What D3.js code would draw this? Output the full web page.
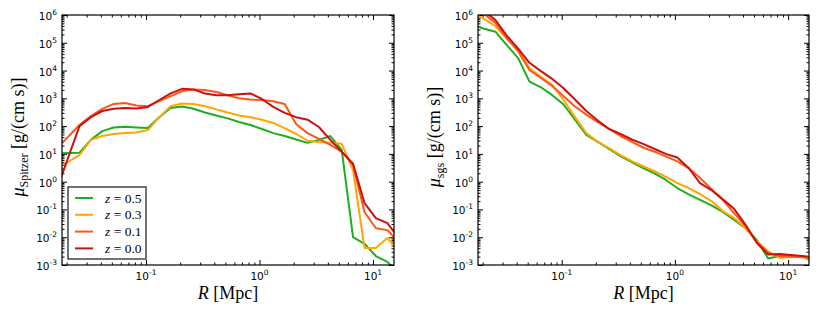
<!DOCTYPE html>
<html><head><meta charset="utf-8">
<script src="https://cdn.jsdelivr.net/npm/d3@7"></script>
<style>body{margin:0;background:#fff}</style>
</head><body>
<svg id="c" width="830" height="312"></svg>
<script>
// ---- data ----
const radius = [0.01633,0.02056,0.02594,0.03266,0.04121,0.05188,0.06546,0.08241,0.1038,0.1309,0.1648,0.2080,0.2618,0.3304,0.4159,0.5236,0.6607,0.8318,1.050,1.321,1.667,2.099,2.649,3.334,4.207,5.297,6.668,8.414,10.59,13.37,16.83];
const seriesLabels = ["0.5","0.3","0.1","0.0"];
const seriesColors = ["#1fae1f","#ffa500","#ff5516","#cc1010"];

const spitzerZ05 = [10.5,10.7,11,32,66,89,95,89,85,210,450,510,420,310,240,190,140,110,79,56,44,33,25,32,44,14,0.010,0.0058,0.0021,0.0013,0.0005];
const spitzerZ03 = [3.1,5.1,9.1,32,44,52,56,59,72,210,520,650,630,520,400,310,240,210,170,130,85,52,30,27,25,23,2.6,0.0041,0.0041,0.0093,0.0032];
const spitzerZ01 = [15,41,110,230,420,630,680,550,520,790,1200,1800,2100,2000,1700,1300,1000,910,870,790,630,120,56,35,21,12,4.0,0.081,0.021,0.018,0.0068];
const spitzerZ00 = [0.5,7.1,100,210,350,420,450,430,490,870,1500,2200,2100,1500,1300,1300,1400,1500,950,490,300,210,170,93,32,12,4.4,0.17,0.049,0.032,0.0093];

const sgsZ05 = [4.4e5,3.2e5,2.5e5,8.3e4,2.8e4,4.0e3,2.5e3,1.3e3,6.0e2,1.7e2,48,27,15,8.3,5.1,3.1,2.0,1.15,0.59,0.35,0.22,0.14,0.081,0.042,0.021,0.0079,0.0017,0.0021,0.0021,0.0020,0.0013];
const sgsZ03 = [1.2e6,7.2e5,4.0e5,1.4e5,5.5e4,1.2e4,5.9e3,3.0e3,8.7e2,2.1e2,56,27,16,9.1,5.5,3.6,2.4,1.5,0.89,0.59,0.36,0.20,0.087,0.049,0.021,0.0072,0.0031,0.0018,0.0020,0.0019,0.0017];
const sgsZ01 = [1.8e6,1.1e6,5.2e5,1.5e5,4.9e4,1.05e4,5.4e3,2.8e3,1.2e3,5.1e2,2.6e2,1.4e2,79,44,27,17,12,8.1,5.4,3.1,1.35,0.55,0.22,0.074,0.025,0.0068,0.0027,0.0021,0.0020,0.0020,0.0019];
const sgsZ00 = [5.0e6,1.4e6,6.6e5,1.8e5,6.2e4,1.9e4,9.5e3,5.0e3,2.3e3,9.1e2,3.5e2,1.6e2,79,52,33,23,15,10,7.4,3.1,0.89,0.50,0.23,0.105,0.028,0.0062,0.0024,0.0025,0.0023,0.0021,0.0019];

const xDomain = [0.0182, 15.3];
const yDomain = [1e-3, 1e6];
const xTickExp = [-1, 0, 1];
const yTickExp = [-3,-2,-1,0,1,2,3,4,5,6];

// ---- drawing ----
const svg = d3.select("#c");
const plotTop = 15, plotBottom = 265;
const panels = [
  {left:62, right:394, sub:"Spitzer", data:[spitzerZ05,spitzerZ03,spitzerZ01,spitzerZ00], legend:true},
  {left:478, right:809, sub:"sgs", data:[sgsZ05,sgsZ03,sgsZ01,sgsZ00], legend:false}
];
const tickFont = "DejaVu Sans, sans-serif";
const mathFont = "Liberation Serif, DejaVu Serif, serif";

panels.forEach((p, pi) => {
  const x = d3.scaleLog().domain(xDomain).range([p.left, p.right]);
  const y = d3.scaleLog().domain(yDomain).range([plotBottom, plotTop]);
  const g = svg.append("g");
  const cid = "clip" + pi;
  svg.append("clipPath").attr("id", cid).append("rect")
    .attr("x", p.left).attr("y", plotTop).attr("width", p.right - p.left).attr("height", plotBottom - plotTop);

  const xMajor = xTickExp.map(e => Math.pow(10, e));
  const xMinor = x.ticks().filter(v => !xMajor.some(m => Math.abs(m - v) / m < 1e-9));
  const yMajor = yTickExp.map(e => Math.pow(10, e));
  const yMinor = y.ticks(60).filter(v => !yMajor.some(m => Math.abs(m - v) / m < 1e-9));

  const mk = (axisFn, scale, vals, size, tr) => {
    g.append("g").attr("transform", tr)
      .call(axisFn(scale).tickValues(vals).tickSize(size).tickFormat(""))
      .call(s => s.select(".domain").remove())
      .call(s => s.selectAll("line").attr("stroke", "#000").attr("stroke-width", 1));
  };
  mk(d3.axisBottom, x, xMajor, -5, `translate(0,${plotBottom})`);
  mk(d3.axisBottom, x, xMinor, -2.5, `translate(0,${plotBottom})`);
  mk(d3.axisTop, x, xMajor, -5, `translate(0,${plotTop})`);
  mk(d3.axisTop, x, xMinor, -2.5, `translate(0,${plotTop})`);
  mk(d3.axisLeft, y, yMajor, -5, `translate(${p.left},0)`);
  mk(d3.axisLeft, y, yMinor, -2.5, `translate(${p.left},0)`);
  mk(d3.axisRight, y, yMajor, -5, `translate(${p.right},0)`);
  mk(d3.axisRight, y, yMinor, -2.5, `translate(${p.right},0)`);

  xTickExp.forEach(e => {
    const t = g.append("text").attr("x", x(Math.pow(10, e))).attr("y", plotBottom + 15)
      .attr("text-anchor", "middle").attr("font-family", tickFont).attr("font-size", 10.5);
    t.append("tspan").text("10");
    t.append("tspan").attr("dy", -5).attr("font-size", 7.5).text(e < 0 ? "-" + (-e) : e);
  });
  yTickExp.forEach(e => {
    const t = g.append("text").attr("x", p.left - 5).attr("y", y(Math.pow(10, e)) + 5)
      .attr("text-anchor", "end").attr("font-family", tickFont).attr("font-size", 10.5);
    t.append("tspan").text("10");
    t.append("tspan").attr("dy", -5).attr("font-size", 7.5).text(e < 0 ? "-" + (-e) : e);
  });

  const line = d3.line().x((d, i) => x(radius[i])).y(d => y(d));
  const lg = g.append("g").attr("clip-path", `url(#${cid})`);
  p.data.forEach((arr, si) => {
    lg.append("path").datum(arr).attr("d", line).attr("fill", "none")
      .attr("stroke", seriesColors[si]).attr("stroke-width", 2).attr("stroke-linejoin", "round");
  });

  g.append("rect").attr("x", p.left).attr("y", plotTop).attr("width", p.right - p.left).attr("height", plotBottom - plotTop)
    .attr("fill", "none").attr("stroke", "#000").attr("stroke-width", 1.2);

  const xl = g.append("text").attr("x", (p.left + p.right) / 2).attr("y", 299)
    .attr("text-anchor", "middle").attr("font-family", mathFont).attr("font-size", 18);
  xl.append("tspan").attr("font-style", "italic").text("R");
  xl.append("tspan").text(" [Mpc]");

  const ylx = p.left - 38;
  const yl = g.append("text").attr("transform", `translate(${ylx},${(plotTop + plotBottom) / 2 - 3}) rotate(-90)`)
    .attr("text-anchor", "middle").attr("font-family", mathFont).attr("font-size", 18);
  yl.append("tspan").attr("font-style", "italic").text("μ");
  yl.append("tspan").attr("dy", 4).attr("font-size", 12).text(p.sub);
  yl.append("tspan").attr("dy", -4).text(" [g/(cm s)]");

  if (p.legend) {
    const lx = 68, ly = 187;
    g.append("rect").attr("x", lx).attr("y", ly).attr("width", 78).attr("height", 72)
      .attr("fill", "#fff").attr("stroke", "#444").attr("stroke-width", 1.5);
    seriesLabels.forEach((s, i) => {
      const yy = ly + 11 + i * 16.8;
      g.append("line").attr("x1", lx + 7).attr("x2", lx + 25).attr("y1", yy).attr("y2", yy)
        .attr("stroke", seriesColors[i]).attr("stroke-width", 2);
      const t = g.append("text").attr("x", lx + 37).attr("y", yy + 4.5)
        .attr("font-family", mathFont).attr("font-size", 13.5);
      t.append("tspan").attr("font-style", "italic").text("z");
      t.append("tspan").text(" = " + s);
    });
  }
});
</script>
</body></html>
